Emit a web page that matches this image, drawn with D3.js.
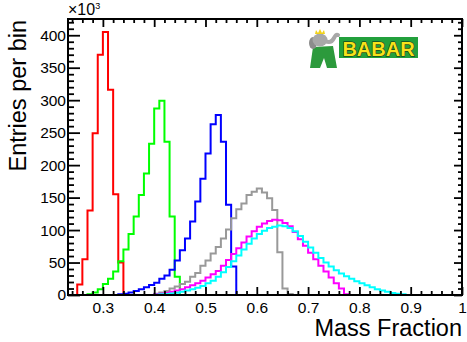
<!DOCTYPE html>
<html>
<head>
<meta charset="utf-8">
<script src="https://cdn.jsdelivr.net/npm/d3@7"></script>
<style>
  html, body { margin: 0; padding: 0; background: #fff; }
  svg { display: block; }
  text { font-family: "Liberation Sans", Arial, Helvetica, sans-serif; fill: #000; }
</style>
</head>
<body>
<div id="chart"></div>
<script>
// bin width of all histograms
const binWidth = 0.01;

// histogram contents, one value per bin starting at the given lower edge
const redStart = 0.25;
const redCounts = [16, 55, 130, 249, 370, 405, 316, 155, 50];

const greenStart = 0.27;
const greenCounts = [1, 4, 9, 17, 25, 36, 52, 70, 94, 121, 154, 187, 233, 287, 299, 236, 121, 28];

const blueStart = 0.33;
const blueCounts = [1, 2, 4, 6, 9, 12, 15.5, 19, 25, 30, 39, 53, 69, 87, 113, 144, 179, 218, 263, 277, 236, 139, 44];

const grayStart = 0.40;
const grayCounts = [2, 4, 6, 10, 13, 17, 20.5, 28, 34, 45, 53, 64, 74, 87, 101, 118, 132, 141, 154, 159, 164, 158, 149, 131, 66, 10, 1.5];

const magentaStart = 0.40;
const magentaCounts = [1, 2, 3, 5, 7, 9, 12, 15, 18, 22, 27, 32, 37, 45, 54, 63, 72, 81, 90, 98, 105, 110, 114, 116, 115, 111, 106, 97, 86, 76, 65, 55, 45, 36, 27, 18, 10, 1];

const cyanStart = 0.40;
const cyanCounts = [0.5, 1, 1.5, 2.5, 3.5, 5, 7, 9, 11, 14, 18, 22, 28, 35, 43, 52, 61, 70, 79, 87, 94, 99, 103, 105, 107, 106, 103, 98, 91, 82, 73, 65, 57, 50, 44, 38, 33, 29, 25, 21, 18, 15, 12, 9, 7, 5, 3, 2, 1];

// axes
const xTicks = [0.3, 0.4, 0.5, 0.6, 0.7, 0.8, 0.9, 1.0];
const xTickLabels = ['0.3', '0.4', '0.5', '0.6', '0.7', '0.8', '0.9', '1'];
const yTicks = [0, 50, 100, 150, 200, 250, 300, 350, 400];
const yTickLabels = ['0', '50', '100', '150', '200', '250', '300', '350', '400'];
const xDomain = [0.232, 1.0];
const yDomain = [0, 425];

const width = 467, height = 342;
const margin = { top: 19, right: 5, bottom: 47, left: 68 };

const svg = d3.select('#chart')
  .append('svg')
    .attr('width', width)
    .attr('height', height);

const x = d3.scaleLinear().domain(xDomain).range([margin.left, width - margin.right]);
const y = d3.scaleLinear().domain(yDomain).range([height - margin.bottom, margin.top]);

const series = [
  { start: redStart, counts: redCounts, color: '#ff0000' },
  { start: greenStart, counts: greenCounts, color: '#00ff00' },
  { start: blueStart, counts: blueCounts, color: '#0000ff' },
  { start: grayStart, counts: grayCounts, color: '#999999' },
  { start: magentaStart, counts: magentaCounts, color: '#ff00ff' },
  { start: cyanStart, counts: cyanCounts, color: '#00ffff' }
];

const line = d3.line().x(d => x(d[0])).y(d => y(d[1]));

function outline(s) {
  const pts = [[xDomain[0], 0], [s.start, 0]];
  s.counts.forEach((c, i) => {
    const lo = s.start + i * binWidth;
    pts.push([lo, c], [lo + binWidth, c]);
  });
  const end = s.start + s.counts.length * binWidth;
  pts.push([end, 0], [xDomain[1], 0]);
  return pts;
}

svg.append('g')
  .selectAll('path')
  .data(series)
  .enter().append('path')
    .attr('d', d => line(outline(d)))
    .attr('fill', 'none')
    .attr('stroke', d => d.color)
    .attr('stroke-width', 2)
    .attr('stroke-linejoin', 'miter');

// minor tick values
const xMinor = d3.range(0.24, 1.001, 0.02).filter(v => Math.abs(v * 10 - Math.round(v * 10)) > 1e-6);
const yMinor = d3.range(10, 425, 10).filter(v => v % 50 !== 0);

function styleAxis(g) {
  g.select('.domain').remove();
  g.selectAll('.tick line').attr('stroke', '#000').attr('stroke-width', 1.8);
}

const bottom = height - margin.bottom;
const right = width - margin.right;

svg.append('g')
  .attr('transform', `translate(${margin.left},0)`)
  .call(d3.axisLeft(y).tickValues(yTicks).tickSize(-12).tickPadding(2)
    .tickFormat((d, i) => yTickLabels[i]))
  .call(styleAxis)
  .call(g => g.selectAll('text').attr('font-size', 15.5).attr('font-family', '"Liberation Sans", Arial, sans-serif').attr('fill', '#000'));

svg.append('g')
  .attr('transform', `translate(${margin.left},0)`)
  .call(d3.axisLeft(y).tickValues(yMinor).tickSize(-6).tickFormat(''))
  .call(styleAxis);

svg.append('g')
  .attr('transform', `translate(${right},0)`)
  .call(d3.axisRight(y).tickValues(yTicks).tickSize(-8).tickFormat(''))
  .call(styleAxis);

svg.append('g')
  .attr('transform', `translate(${right},0)`)
  .call(d3.axisRight(y).tickValues(yMinor).tickSize(-4).tickFormat(''))
  .call(styleAxis);

svg.append('g')
  .attr('transform', `translate(0,${bottom})`)
  .call(d3.axisBottom(x).tickValues(xTicks).tickSize(-8).tickPadding(7)
    .tickFormat((d, i) => xTickLabels[i]))
  .call(styleAxis)
  .call(g => g.selectAll('text').attr('font-size', 15.5).attr('font-family', '"Liberation Sans", Arial, sans-serif').attr('fill', '#000'));

svg.append('g')
  .attr('transform', `translate(0,${bottom})`)
  .call(d3.axisBottom(x).tickValues(xMinor).tickSize(-4).tickFormat(''))
  .call(styleAxis);

svg.append('g')
  .attr('transform', `translate(0,${margin.top})`)
  .call(d3.axisTop(x).tickValues(xTicks).tickSize(-8).tickFormat(''))
  .call(styleAxis);

svg.append('g')
  .attr('transform', `translate(0,${margin.top})`)
  .call(d3.axisTop(x).tickValues(xMinor).tickSize(-4).tickFormat(''))
  .call(styleAxis);

// frame
svg.append('rect')
  .attr('x', margin.left)
  .attr('y', margin.top)
  .attr('width', right - margin.left)
  .attr('height', bottom - margin.top)
  .attr('fill', 'none')
  .attr('stroke', '#000')
  .attr('stroke-width', 2);

// titles
svg.append('text')
  .attr('x', right)
  .attr('y', 336)
  .attr('text-anchor', 'end')
  .attr('font-size', 23.5)
  .text('Mass Fraction');

svg.append('text')
  .attr('transform', `translate(26,${margin.top + 1}) rotate(-90)`)
  .attr('text-anchor', 'end')
  .attr('font-size', 23.5)
  .text('Entries per bin');

const mult = svg.append('text')
  .attr('x', margin.left)
  .attr('y', 15)
  .attr('font-size', 16);
mult.append('tspan').text('\u00d710');
mult.append('tspan').attr('dy', -6).attr('font-size', 9).text('3');

// BABAR logo
const logo = svg.append('g');
logo.append('path')
  .attr('d', 'M313,47 L333,46 L337,68 L327,68 L324,58 L320,68 L310,68 Z')
  .attr('fill', '#2c9a3c');
logo.append('ellipse').attr('cx', 313).attr('cy', 43).attr('rx', 4).attr('ry', 6).attr('fill', '#8c8c8c');
logo.append('ellipse').attr('cx', 320).attr('cy', 40).attr('rx', 7.5).attr('ry', 6.5).attr('fill', '#a8a8a8');
logo.append('path')
  .attr('d', 'M325,41 Q331,44 334,38 Q336,34 338,35')
  .attr('fill', 'none').attr('stroke', '#a8a8a8').attr('stroke-width', 4).attr('stroke-linecap', 'round');
logo.append('path')
  .attr('d', 'M315,34 L316,30 L318,33 L320,29 L322,33 L324,30 L325,34 Z')
  .attr('fill', '#f2d21a');
logo.append('rect')
  .attr('x', 339).attr('y', 37).attr('width', 79).attr('height', 21)
  .attr('fill', '#22a03c');
logo.append('text')
  .attr('x', 378.5).attr('y', 55.5)
  .attr('text-anchor', 'middle')
  .attr('font-size', 20)
  .style('font-weight', 'bold')
  .style('fill', '#f7e21a')
  .style('stroke', '#10240f')
  .style('stroke-width', 1)
  .style('paint-order', 'stroke')
  .text('BABAR');
</script>
</body>
</html>
